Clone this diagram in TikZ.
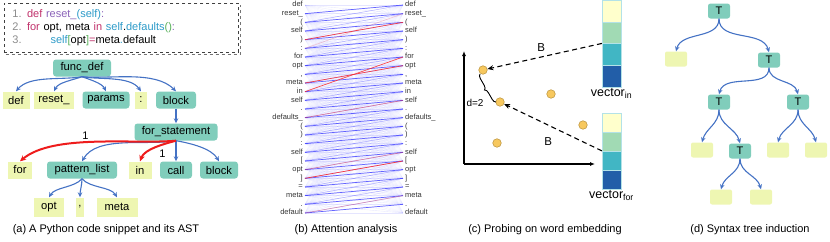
\documentclass[tikz,border=0pt]{standalone}
\usepackage{fontspec}
\setmainfont{Liberation Sans}
\usetikzlibrary{arrows.meta, positioning, decorations.pathreplacing, calc}
\definecolor{mTeal}{HTML}{80CDBB}
\definecolor{mYellow}{HTML}{EEF6B2}
\definecolor{mBlue}{HTML}{4472C4}
\definecolor{mRed}{HTML}{EE1C1C}
\definecolor{aBlue}{HTML}{2B2BFF}
\definecolor{aRed}{HTML}{FF2B2B}
\definecolor{mDot}{HTML}{F7C85E}
\definecolor{mDotEdge}{HTML}{C09A45}
\definecolor{vA}{HTML}{FFFFCC}
\definecolor{vB}{HTML}{A1DAB4}
\definecolor{vC}{HTML}{41B6C4}
\definecolor{vD}{HTML}{225EA8}
\definecolor{cKey}{HTML}{C0306A}
\definecolor{cFun}{HTML}{8A62B8}
\definecolor{cSelf}{HTML}{2C9AC8}
\definecolor{cBr}{HTML}{58B05A}
\definecolor{cNum}{HTML}{8C8C8C}

\tikzset{
  astT/.style={fill=mTeal, rounded corners=3pt, minimum height=17pt, inner sep=1pt, font=\fontsize{11.2}{13}\selectfont},
  astY/.style={fill=mYellow, minimum height=17pt, inner sep=1pt, font=\fontsize{11.2}{13}\selectfont},
  ast/.style={-{Stealth[length=5pt,width=4.5pt]}, mBlue, line width=1.1pt},
  astred/.style={-{Stealth[length=6pt,width=5.5pt]}, mRed, line width=2pt},
  tok/.style={font=\fontsize{7.5}{8}\selectfont, inner xsep=2pt, inner ysep=0pt, text height=5pt, text depth=1.5pt, text=black!80},
  attn/.style={aBlue, line width=0.5pt},
  dot/.style={circle, fill=mDot, draw=mDotEdge, line width=0.6pt, minimum size=8.5pt, inner sep=0pt},
  cell/.style={minimum width=19pt, inner sep=0pt, draw=vC!40, line width=0.3pt},
  probe/.style={-{Stealth[length=6pt,width=5pt]}, dash pattern=on 5pt off 3.5pt, line width=1.1pt},
  treeT/.style={fill=mTeal, rounded corners=2.5pt, minimum width=22pt, minimum height=15pt, inner sep=0pt, font=\fontsize{11}{12}\selectfont},
  treeY/.style={fill=mYellow, rounded corners=2pt, minimum width=22pt, minimum height=15pt, inner sep=0pt},
  captxt/.style={font=\fontsize{11}{13}\selectfont}
}

\begin{document}
\begin{tikzpicture}[x=1pt, y=-1pt]
  \useasboundingbox (0,0) rectangle (830,241);

  % (a) code snippet and its AST
  \node[draw=black!75, dashed, line width=0.8pt, anchor=north west, minimum width=234pt,
        minimum height=49pt, text width=218pt, inner xsep=8pt, align=left,
        font=\fontsize{11}{13}\selectfont] (code) at (4,3)
    {{\color{cNum}1.} {\color{cKey}def} {\color{cFun}reset\_}{\color{cSelf}(self)}{\color{cFun}:}\\
     {\color{cNum}2.} {\color{cKey}for} opt, meta {\color{cKey}in} {\color{cSelf}self}.{\color{cSelf}defaults}{\color{cBr}()}{\color{cFun}:}\\
     {\color{cNum}3.}\hspace{29pt}{\color{cSelf}self}{\color{cBr}[}opt{\color{cBr}]}{\color{cKey}=}meta{\color{cSelf}.}default};
  \draw[dashed, black!55, line width=1.2pt]
    ([shift={(1.5pt,-1.5pt)}]code.south west) -- ([shift={(1.5pt,-1.5pt)}]code.south east)
    -- ([shift={(1.5pt,-1.5pt)}]code.north east);

  \node[astT, minimum width=58pt] (fd) at (82,68) {func\_def};
  \node[astY, minimum width=27pt] (a1) at (16,100) {def};
  \node[astY, minimum width=40pt] (a2) at (54,100) {reset\_};
  \node[astT, minimum width=47pt] (a3) at (106,100) {params};
  \node[astY, minimum width=12pt] (a4) at (141,100) {:};
  \node[astT, minimum width=40pt] (a5) at (176,100) {block};
  \node[astT, minimum width=83pt] (fs) at (176,132) {for\_statement};
  \node[astY, minimum width=24pt] (b1) at (20,170) {for};
  \node[astT, minimum width=70pt] (b2) at (82,170) {pattern\_list};
  \node[astY, minimum width=23pt] (b3) at (140,170) {in};
  \node[astT, minimum width=32pt] (b4) at (176,170) {call};
  \node[astT, minimum width=38pt] (b5) at (219,170) {block};
  \node[astY, minimum width=30pt, minimum height=19pt] (c1) at (49,207) {opt};
  \node[astY, minimum width=8pt, minimum height=19pt] (c2) at (80,207) {,};
  \node[astY, minimum width=41pt, minimum height=19pt] (c3) at (117,207) {meta};

  \foreach \c/\o/\i in {a1/-170/50, a2/-160/65, a3/-20/115, a4/-10/125, a5/-5/135}
    \draw[ast] (fd.south) to[out=\o, in=\i, looseness=0.8] (\c.north);
  \draw[ast] (a5.south) -- (fs.north);
  \draw[ast] (fs.south) to[out=-170, in=60, looseness=0.8] (b2.north);
  \draw[ast] (fs.south) -- (b4.north);
  \draw[ast] (fs.south) to[out=-10, in=120, looseness=0.8] (b5.north);
  \draw[astred] (fs.south) to[out=-175, in=40, looseness=0.7]
    node[pos=0.55, above=-1pt, font=\fontsize{11}{12}\selectfont, text=black] {1} (b1.north);
  \draw[astred] (fs.south) to[out=-165, in=70, looseness=0.8]
    node[pos=0.5, below right=-2pt and 0pt, font=\fontsize{11}{12}\selectfont, text=black] {1} (b3.north);
  \foreach \c/\o/\i in {c1/-130/60, c2/-90/90, c3/-50/120}
    \draw[ast] (b2.south) to[out=\o, in=\i, looseness=0.8] (\c.north);

  \node[captxt] (capa) at (106,230) {(a) A Python code snippet and its AST};

  % (b) attention analysis
  \foreach \w [count=\i from 0] in {def, reset\_, {(}, self, {)}, :, for, opt, {,}, meta, in, self, ., defaults\_, {(}, {)}, :, self, {[}, opt, {]}, =, meta, ., default}{
    \node[tok, anchor=east] (lt\i) at (305,{5+8.667*\i}) {\w};
    \node[tok, anchor=west] (rt\i) at (403,{5+8.667*\i}) {\w};
  }
  \foreach \i in {0,...,24}
    \foreach \j in {0,...,24}{
      \pgfmathsetmacro\op{max(0.02, 0.14-0.018*abs(\i-\j-1))}
      \draw[attn, opacity=\op, line width=0.4pt] (lt\i.east) -- (rt\j.west);
    }
  \foreach \i [evaluate=\i as \j using int(\i-2)] in {2,...,24}
    \draw[attn, opacity=0.3] (lt\i.east) -- (rt\j.west);
  \foreach \i [evaluate=\i as \j using int(\i-1)] in {1,...,24}
    \draw[attn, opacity=0.7, line width=0.7pt] (lt\i.east) -- (rt\j.west);
  \foreach \i/\j/\o in {4/2/0.85, 9/7/0.85, 10/6/0.85, 13/11/0.45, 19/17/0.4, 20/18/0.9, 24/22/0.3, 5/1/0.2}
    \draw[aRed, line width=0.7pt, opacity=\o] (lt\i.east) -- (rt\j.west);

  \node[captxt] (capb) at (346,230) {(b) Attention analysis};

  % (c) probing on word embedding
  \coordinate (org) at (464,164);
  \coordinate (ytop) at (464,51);
  \coordinate (xend) at (595,164);
  \draw[-{Latex[length=5pt,width=4pt]}, line width=1.2pt] (org) -- (ytop);
  \draw[-{Latex[length=5pt,width=4pt]}, line width=1.2pt] (org) -- (xend);
  \foreach \n/\x/\y in {p1/483/70, p2/500/102, p3/551/94, p4/583/125, p5/497/143}
    \node[dot] (\n) at (\x,\y) {};
  \foreach \c [count=\k from 0] in {vA,vB,vC,vD}{
    \node[cell, fill=\c, minimum height=21.8pt] (vi\k) at (611.5,{10.9+21.8*\k}) {};
    \node[cell, fill=\c, minimum height=19pt] (vf\k) at (611.5,{122.5+19*\k}) {};
  }
  \node[anchor=north, inner sep=1pt, font=\fontsize{12.5}{14}\selectfont] (vin) at (vi3.south) {vector\textsubscript{in}};
  \node[anchor=north, inner sep=1pt, font=\fontsize{12.5}{14}\selectfont] (vfor) at (vf3.south) {vector\textsubscript{for}};
  \draw[probe] (vi2.north west) -- (p1) node[pos=0.53, above=2pt, font=\fontsize{11.5}{13}\selectfont] {B};
  \draw[probe] (vf2.north west) -- (p2) node[pos=0.55, below=9pt, font=\fontsize{11.5}{13}\selectfont] {B};
  \draw[decorate, decoration={brace, amplitude=4pt}, line width=0.9pt]
    ([shift={(-4pt,0pt)}]p2.center) -- ([shift={(-3pt,-4pt)}]p1.center);
  \node[font=\fontsize{10}{11}\selectfont, inner sep=0pt] (dlab) at (475,103) {d=2};

  \node[captxt] (capc) at (545,230) {(c) Probing on word embedding};

  % (d) syntax tree induction
  \foreach \n/\x/\y in {t0/719/11, t1/769/60, t2/719/102, t3/798/102, t4/740/151}
    \node[treeT] (\n) at (\x,\y) {T};
  \foreach \n/\x/\y in {y1/676/59, y2/702/150, y3/778/150, y4/816/150, y5/721/197, y6/761/197}
    \node[treeY] (\n) at (\x,\y) {};
  \foreach \a/\b/\ang in {t0/y1/75, t0/t1/105, t1/t2/75, t1/t3/105, t2/y2/75, t2/t4/105, t3/y3/75, t3/y4/105, t4/y5/75, t4/y6/105}
    \draw[ast] (\a.south) to[out=-90, in=\ang] (\b.north);

  \node[captxt] (capd) at (750,230) {(d) Syntax tree induction};
\end{tikzpicture}
\end{document}
